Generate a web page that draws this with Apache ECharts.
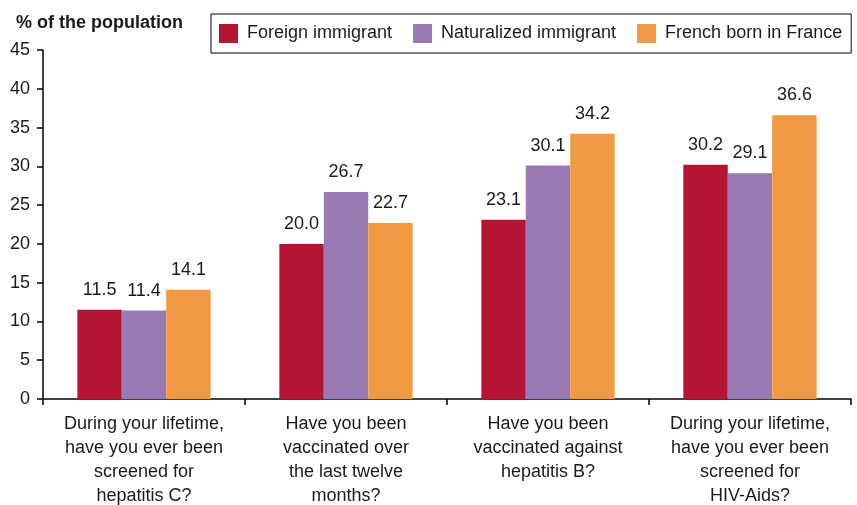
<!DOCTYPE html>
<html>
<head>
<meta charset="utf-8">
<script src="https://cdn.jsdelivr.net/npm/echarts@6/dist/echarts.min.js"></script>
<style>
  html, body { margin: 0; padding: 0; background: #fff; }
  #chart { width: 857px; height: 505px; }
</style>
</head>
<body>
<div id="chart"></div>
<script>
const categories = [
  "During your lifetime,\nhave you ever been\nscreened for\nhepatitis C?",
  "Have you been\nvaccinated over\nthe last twelve\nmonths?",
  "Have you been\nvaccinated against\nhepatitis B?",
  "During your lifetime,\nhave you ever been\nscreened for\nHIV-Aids?"
];
const foreignImmigrant = [11.5, 20.0, 23.1, 30.2];
const naturalizedImmigrant = [11.4, 26.7, 30.1, 29.1];
const frenchBorn = [14.1, 22.7, 34.2, 36.6];

const font = "Liberation Sans, Arial, sans-serif";
const chart = echarts.init(document.getElementById("chart"));

function bar(name, data, color) {
  return {
    name: name,
    type: "bar",
    data: data,
    barGap: "0%",
    barCategoryGap: "34%",
    itemStyle: { color: color },
    label: {
      show: true,
      position: "top",
      distance: 11,
      fontFamily: font,
      fontSize: 18,
      color: "#1a1a1a",
      formatter: (p) => p.value.toFixed(1)
    }
  };
}

chart.setOption({
  animation: false,
  title: {
    text: "% of the population",
    left: 11,
    top: 9,
    textStyle: { fontFamily: font, fontSize: 18, fontWeight: "bold", color: "#1a1a1a" }
  },
  legend: {
    left: 211,
    top: 14,
    padding: [10, 9, 10, 8],
    itemGap: 21,
    itemWidth: 19,
    itemHeight: 19,
    borderColor: "#000",
    borderWidth: 1,
    borderRadius: 0,
    icon: "rect",
    textStyle: { fontFamily: font, fontSize: 18, color: "#1a1a1a", padding: [0, 0, 0, 4] }
  },
  grid: { left: 43, right: 6, top: 50, bottom: 106, containLabel: false, outerBoundsMode: "none" },
  xAxis: {
    type: "category",
    data: categories,
    axisLine: { lineStyle: { color: "#000", width: 1.5 } },
    axisTick: { show: true, length: 6, lineStyle: { color: "#000", width: 1.5 } },
    axisLabel: {
      interval: 0,
      margin: 13,
      fontFamily: font,
      fontSize: 18,
      lineHeight: 24,
      color: "#1a1a1a"
    }
  },
  yAxis: {
    type: "value",
    min: 0,
    max: 45,
    interval: 5,
    axisLine: { show: true, lineStyle: { color: "#000", width: 1.5 } },
    axisTick: { show: true, length: 6, lineStyle: { color: "#000", width: 1.5 } },
    splitLine: { show: false },
    axisLabel: { margin: 13, fontFamily: font, fontSize: 18, color: "#1a1a1a" }
  },
  series: [
    bar("Foreign immigrant", foreignImmigrant, "#B51535"),
    bar("Naturalized immigrant", naturalizedImmigrant, "#9A7AB4"),
    bar("French born in France", frenchBorn, "#F29A43")
  ]
});
</script>
</body>
</html>
